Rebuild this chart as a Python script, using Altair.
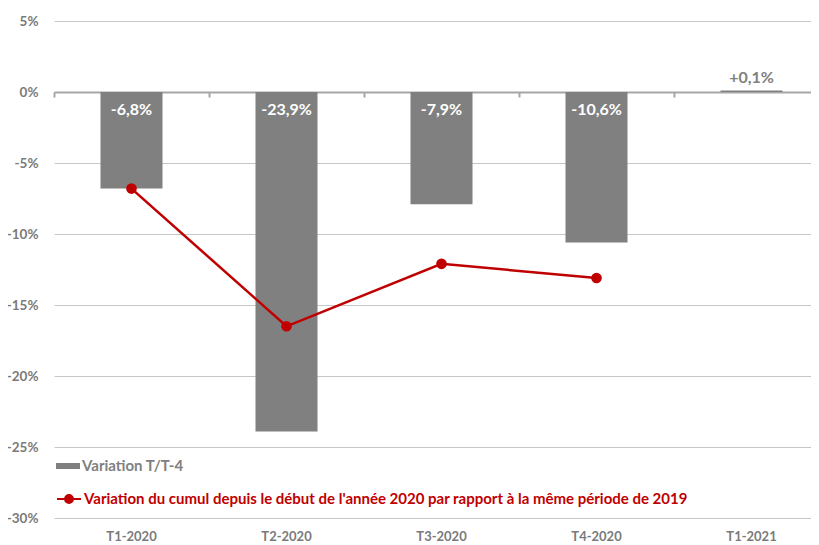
import altair as alt
import pandas as pd

categories = ["T1-2020", "T2-2020", "T3-2020", "T4-2020", "T1-2021"]
bar_values = [-6.8, -23.9, -7.9, -10.6, 0.1]
line_values = [-6.8, -16.5, -12.1, -13.1, None]
bar_labels = ["-6,8%", "-23,9%", "-7,9%", "-10,6%", "+0,1%"]
bar_series = "Variation T/T-4"
line_series = "Variation du cumul depuis le début de l'année 2020 par rapport à la même période de 2019"
y_ticks = [-30, -25, -20, -15, -10, -5, 0, 5]

df = pd.DataFrame({
    "cat": categories,
    "bar": bar_values,
    "line": line_values,
    "label": bar_labels,
    "s1": bar_series,
    "s2": line_series,
})

FONT = "Lato"
GREY = "#808080"
AXGREY = "#7a7a7a"
RED = "#c00000"

xscale = alt.Scale(paddingInner=0, paddingOuter=0, range=[0, 775])
yscale = alt.Scale(domain=[-30, 5], nice=False, zero=False)

base = alt.Chart(df)

bars = base.mark_bar(width=alt.RelativeBandSize(0.40)).encode(
    x=alt.X("cat:N", sort=categories, title=None, scale=xscale,
            axis=alt.Axis(domain=False, ticks=False, grid=False, labelAngle=0,
                          labelPadding=12, labelFont=FONT, labelFontWeight="bold",
                          labelFontSize=13, labelColor=AXGREY)),
    y=alt.Y("bar:Q", title=None, scale=yscale,
            axis=alt.Axis(values=y_ticks, labelExpr="datum.value + '%'", grid=True,
                          gridColor="#c6c6c6", gridWidth=1, domain=False, ticks=False,
                          labelPadding=16, labelFont=FONT, labelFontWeight="bold",
                          labelFontSize=13.5, labelColor=AXGREY)),
    color=alt.Color("s1:N", title=None, scale=alt.Scale(range=[GREY]),
                    legend=alt.Legend(orient="none", legendX=2, legendY=433, title=None,
                                      padding=0, symbolType="M-1,-0.25H1V0.25H-1Z",
                                      symbolSize=576, symbolStrokeWidth=0, labelOffset=2,
                                      labelFont=FONT, labelFontWeight="bold", labelFontSize=15,
                                      labelColor=GREY, labelLimit=800)),
)

line = base.mark_line(strokeWidth=2.5).encode(
    x=alt.X("cat:N", sort=categories, title=None, axis=None),
    y=alt.Y("line:Q", title=None),
    stroke=alt.Stroke("s2:N", title=None, scale=alt.Scale(range=[RED]),
                      legend=alt.Legend(orient="none", legendX=2, legendY=465, title=None,
                                        padding=0,
                                        symbolType="M-1,0H1M-0.33,0A0.33,0.33 0 1 1 0.33,0A0.33,0.33 0 1 1 -0.33,0Z",
                                        symbolSize=576, symbolStrokeWidth=2,
                                        symbolFillColor=RED, symbolStrokeColor=RED,
                                        labelOffset=2, labelFont=FONT, labelFontWeight="bold",
                                        labelFontSize=15, labelColor=RED, labelLimit=800)),
)

points = base.mark_circle(color=RED, size=113, opacity=1).encode(
    x=alt.X("cat:N", sort=categories, title=None, axis=None),
    y=alt.Y("line:Q", title=None),
)

neg_text = base.transform_filter("datum.bar < 0").transform_calculate(zero="0").mark_text(
    color="white", fontWeight="bold", fontSize=16, font=FONT, baseline="alphabetic", dy=23
).encode(
    x=alt.X("cat:N", sort=categories, title=None, axis=None),
    y=alt.Y("zero:Q", title=None),
    text="label:N",
)

pos_text = base.transform_filter("datum.bar >= 0").transform_calculate(zero="0").mark_text(
    color=GREY, fontWeight="bold", fontSize=16, font=FONT, baseline="alphabetic", dy=-9
).encode(
    x=alt.X("cat:N", sort=categories, title=None,
            axis=alt.Axis(orient="bottom", offset=-426, labels=False, grid=False,
                          domain=True, domainColor="#a6a6a6", domainWidth=2,
                          ticks=True, tickColor="#a6a6a6", tickWidth=2, tickSize=5,
                          bandPosition=0)),
    y=alt.Y("zero:Q", title=None),
    text="label:N",
)

chart = alt.layer(bars, line, points, neg_text, pos_text).resolve_axis(
    x="independent"
).properties(
    width=757, height=497,
    autosize=alt.AutoSizeParams(type="none"),
    padding={"left": 46, "top": 13, "right": 0, "bottom": 27},
).configure_view(stroke=None)

chart.save("out.html", embed_options={"renderer": "svg", "actions": False})
